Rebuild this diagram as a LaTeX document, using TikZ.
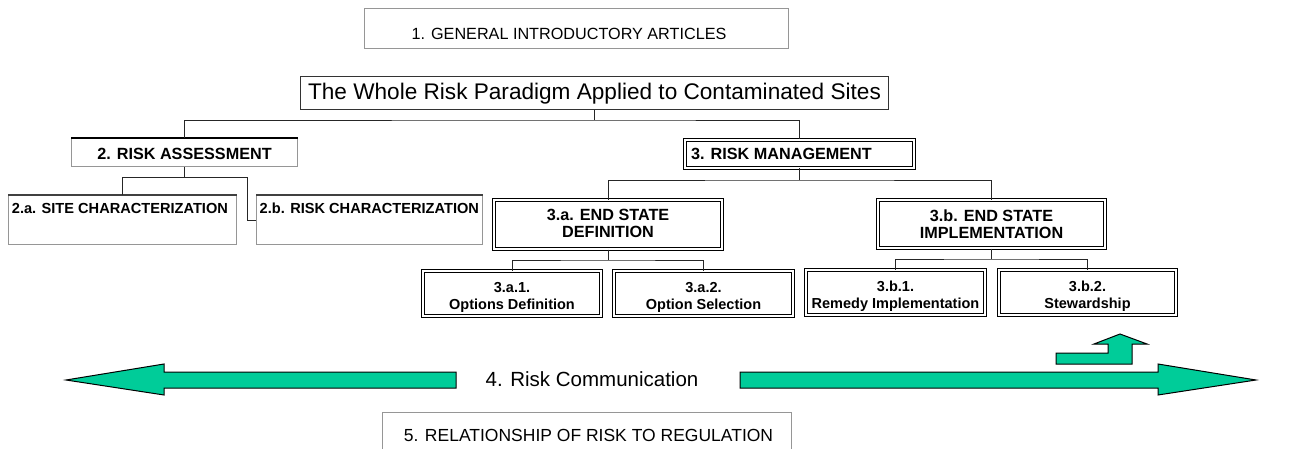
\documentclass[tikz,border=0pt]{standalone}
\usepackage{fontspec}
\setmainfont{Liberation Sans}
\definecolor{commgreen}{RGB}{0,204,153}
\definecolor{framegray}{RGB}{150,150,150}
\newcommand\fs[2]{\fontsize{#1}{#2}\selectfont}
\tikzset{
  conn/.style={draw=black!85, line width=0.9pt},
  plainbox/.style={rectangle, draw=framegray, line width=1pt, fill=white, inner sep=0pt},
  titlebox/.style={rectangle, draw=black!80, line width=1pt, fill=white, inner sep=0pt},
  topbox/.style={rectangle, draw=framegray, line width=1pt, fill=white, inner sep=0pt},
  topline/.style={draw=black, line width=2pt},
  dbox/.style={rectangle, draw=black, double=white, double distance=2pt, line width=1pt, fill=white, inner sep=0pt},
  lbl/.style={inner sep=0pt},
  band/.style={fill=commgreen, draw=black, line width=1pt, line join=miter},
}
\begin{document}
\begin{tikzpicture}[x=1pt, y=-1pt]
\useasboundingbox (0,0) rectangle (1297,449);
\clip (0,0) rectangle (1297,449);

% boxes
\node[plainbox, minimum width=424, minimum height=40] (intro) at (576.5,28.5) {};
\node[titlebox, minimum width=588, minimum height=33] (title) at (594.5,93) {};
\node[topbox, minimum width=226, minimum height=28] (ra) at (184.5,152.5) {};
\node[topbox, minimum width=228, minimum height=49] (a2) at (122.5,220) {};
\node[topbox, minimum width=225.5, minimum height=49] (b2) at (369.25,220) {};
\node[dbox, minimum width=228.5, minimum height=28] (rm) at (799.25,154) {};
\node[dbox, minimum width=228, minimum height=49] (a3) at (608,224.5) {};
\node[dbox, minimum width=227, minimum height=48] (b3) at (991.5,224) {};
\node[dbox, minimum width=178, minimum height=45] (a31) at (512,293.5) {};
\node[dbox, minimum width=179, minimum height=45] (a32) at (703.5,293.5) {};
\node[dbox, minimum width=179, minimum height=45] (b31) at (895.5,292.5) {};
\node[dbox, minimum width=177, minimum height=45] (b32) at (1087.5,292.5) {};
\node[plainbox, minimum width=409, minimum height=60] (reg) at (587,442) {};

% heavy top edges of the assessment boxes
\draw[topline] (ra.north west) -- (ra.north east);
\draw[topline, draw=black!75] (a2.north west) -- (a2.north east);
\draw[topline, draw=black!75] (b2.north west) -- (b2.north east);

% tree connectors
\coordinate (jt) at (594.5,120);
\coordinate (ja) at (184.5,177);
\coordinate (jb) at (247,177);
\coordinate (jr) at (799.25,180);
\coordinate (j3a) at (608,260);
\coordinate (j3b) at (991.5,259);
\draw[conn] (title.south) -- (jt);
\draw[conn] (ra.north) |- (jt) -| (rm.north);
\draw[conn] (ra.south) -- (ja);
\draw[conn] (a2.north) |- (jb) |- (b2.west);
\draw[conn] (rm.south) -- (jr);
\draw[conn] (a3.north) |- (jr) -| (b3.north);
\draw[conn] (a3.south) -- (j3a);
\draw[conn] (a31.north) |- (j3a) -| (a32.north);
\draw[conn] (b3.south) -- (j3b);
\draw[conn] (b31.north) |- (j3b) -| (b32.north);

% labels
\node[lbl, anchor=base, font=\fs{16.2}{18}] (tintro) at (569,39.3) {1. GENERAL INTRODUCTORY ARTICLES};
\node[lbl, anchor=base, font=\fs{22.6}{26}] (ttitle) at (594.5,100) {The Whole Risk Paradigm Applied to Contaminated Sites};
\node[lbl, anchor=base, font=\bfseries\fs{16.2}{18}] (tra) at (184.5,160) {2. RISK ASSESSMENT};
\node[lbl, anchor=base west, font=\bfseries\fs{14.6}{17}] (ta2) at (11.7,213.5) {2.a. SITE CHARACTERIZATION};
\node[lbl, anchor=base west, font=\bfseries\fs{14.6}{17}] (tb2) at (259.5,213.5) {2.b. RISK CHARACTERIZATION};
\node[lbl, anchor=base west, font=\bfseries\fs{16.2}{18}] (trm) at (691,160) {3. RISK MANAGEMENT};
\node[lbl, anchor=north, align=center, font=\bfseries\fs{16.2}{17}] (ta3) at (608,209) {3.a. END STATE\\DEFINITION};
\node[lbl, anchor=north, align=center, font=\bfseries\fs{16.2}{17}] (tb3) at (991.5,209.3) {3.b. END STATE\\IMPLEMENTATION};
\node[lbl, anchor=north, align=center, font=\bfseries\fs{14.5}{17.3}] (ta31) at (512,281.7) {3.a.1.\\Options Definition};
\node[lbl, anchor=north, align=center, font=\bfseries\fs{14.5}{17.3}] (ta32) at (703.5,281.7) {3.a.2.\\Option Selection};
\node[lbl, anchor=north, align=center, font=\bfseries\fs{14.5}{17.3}] (tb31) at (895.5,280.3) {3.b.1.\\Remedy Implementation};
\node[lbl, anchor=north, align=center, font=\bfseries\fs{14.5}{17.3}] (tb32) at (1087.5,280.3) {3.b.2.\\Stewardship};
\node[lbl, anchor=base, font=\fs{20.5}{24}] (tcomm) at (592,386) {4. Risk Communication};
\node[lbl, anchor=base, font=\fs{17.5}{20}] (treg) at (588.5,441.7) {5. RELATIONSHIP OF RISK TO REGULATION};

% communication arrows
\draw[band] (456,372) -- (164,372) -- (164,364) -- (66,380) -- (164,395) -- (164,388) -- (456,388) -- cycle;
\draw[band] (740,372) -- (1158,372) -- (1158,364) -- (1256,380) -- (1158,395) -- (1158,388) -- (740,388) -- cycle;
\draw[band] (1056,364) -- (1056,353) -- (1108,353) -- (1108,344) -- (1094,344) -- (1120,334) -- (1147,344) -- (1132,344) -- (1132,364) -- cycle;
\end{tikzpicture}
\end{document}
